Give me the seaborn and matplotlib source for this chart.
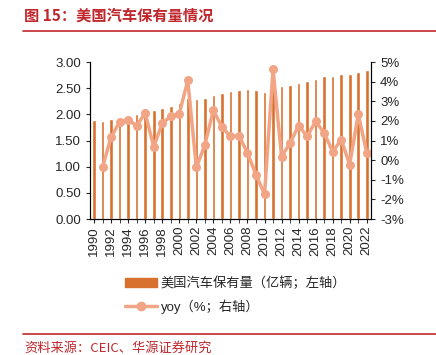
import numpy as np
import pandas as pd
import matplotlib
matplotlib.use("Agg")
import matplotlib.pyplot as plt
import seaborn as sns
from matplotlib.lines import Line2D
from matplotlib.ticker import FuncFormatter, MultipleLocator

# data
years = list(range(1990, 2023))
stock = [1.89, 1.88, 1.91, 1.93, 1.96, 2.01, 2.04, 2.08, 2.12, 2.16, 2.22, 2.31,
         2.30, 2.32, 2.37, 2.41, 2.44, 2.47, 2.48, 2.46, 2.42, 2.53, 2.54, 2.56,
         2.60, 2.64, 2.68, 2.73, 2.74, 2.77, 2.77, 2.82, 2.84]
yoy_years = list(range(1991, 2023))
yoy = [-0.34, 1.18, 1.96, 2.06, 1.76, 2.40, 0.68, 1.89, 2.23, 2.38, 4.07,
       -0.37, 0.78, 2.55, 1.69, 1.22, 1.25, 0.37, -0.74, -1.74, 4.63, 0.17,
       0.88, 1.76, 1.22, 1.98, 1.39, 0.43, 1.05, -0.22, 2.35, 0.37]

bar_label = "美国汽车保有量（亿辆；左轴）"
line_label = "yoy（%；右轴）"
title = "图 15：美国汽车保有量情况"
source = "资料来源：CEIC、华源证券研究"

sns.set_style("ticks")
plt.rcParams['font.family'] = ['Liberation Sans', 'Noto Sans CJK SC', 'DejaVu Sans']

bar_color = "#D8712E"
line_color = "#F2A585"
red = "#C0272D"

fig = plt.figure(figsize=(4.36, 3.55), dpi=100)
ax = fig.add_axes([0.206, 0.383, 0.645, 0.442])

df = pd.DataFrame({"year": years, "stock": stock})
sns.barplot(data=df, x="year", y="stock", native_scale=True, width=0.42,
            color=bar_color, saturation=1, ax=ax)
ax.set_xlim(1989.5, 2022.5)
ax.set_ylim(0, 3)
ax.yaxis.set_major_locator(MultipleLocator(0.5))
ax.yaxis.set_major_formatter(FuncFormatter(lambda v, p: f"{v:.2f}"))
ax.xaxis.set_major_locator(MultipleLocator(2))
ax.xaxis.set_minor_locator(MultipleLocator(1))
ax.xaxis.set_major_formatter(FuncFormatter(lambda v, p: f"{int(v)}"))
ax.tick_params(axis='x', which='both', rotation=90, length=3, labelsize=9.5, pad=2)
ax.tick_params(axis='y', length=3, labelsize=9.5)
ax.set_xlabel("")
ax.set_ylabel("")

ax2 = ax.twinx()
ldf = pd.DataFrame({"year": yoy_years, "yoy": yoy})
sns.lineplot(data=ldf, x="year", y="yoy", color=line_color, linewidth=2.5,
             marker="o", markersize=6.5, markeredgewidth=0, ax=ax2)
ax2.set_ylim(-3, 5)
ax2.yaxis.set_major_locator(MultipleLocator(1))
ax2.yaxis.set_major_formatter(FuncFormatter(lambda v, p: f"{int(v)}%"))
ax2.tick_params(axis='y', length=3, labelsize=9.5)
ax2.set_ylabel("")
ax2.set_xlim(1989.5, 2022.5)

for a in (ax, ax2):
    a.spines['top'].set_visible(False)
    a.spines['left'].set_color('black')
    a.spines['right'].set_color('black')
    a.spines['bottom'].set_color('black')

handles = [plt.Rectangle((0, 0), 1, 1, color=bar_color),
           Line2D([], [], color=line_color, linewidth=2.5, marker='o', markersize=6)]
fig.legend(handles, [bar_label, line_label], loc='upper left',
           bbox_to_anchor=(0.26, 0.255), frameon=False, fontsize=9.5,
           handlelength=2.4, labelspacing=0.7, handletextpad=0.3)

fig.text(0.055, 0.955, title, color=red, fontsize=11, fontweight='bold',
         family=['Noto Sans CJK SC'], va='center')
fig.add_artist(Line2D([0.053, 1.0], [0.912, 0.912], color=red, linewidth=1.2))
fig.add_artist(Line2D([0.053, 1.0], [0.059, 0.059], color=red, linewidth=1.2))
fig.text(0.055, 0.02, source, color=red, fontsize=9.5,
         family=['Noto Sans CJK SC'], va='center')

fig.savefig("out.png", dpi=100)
